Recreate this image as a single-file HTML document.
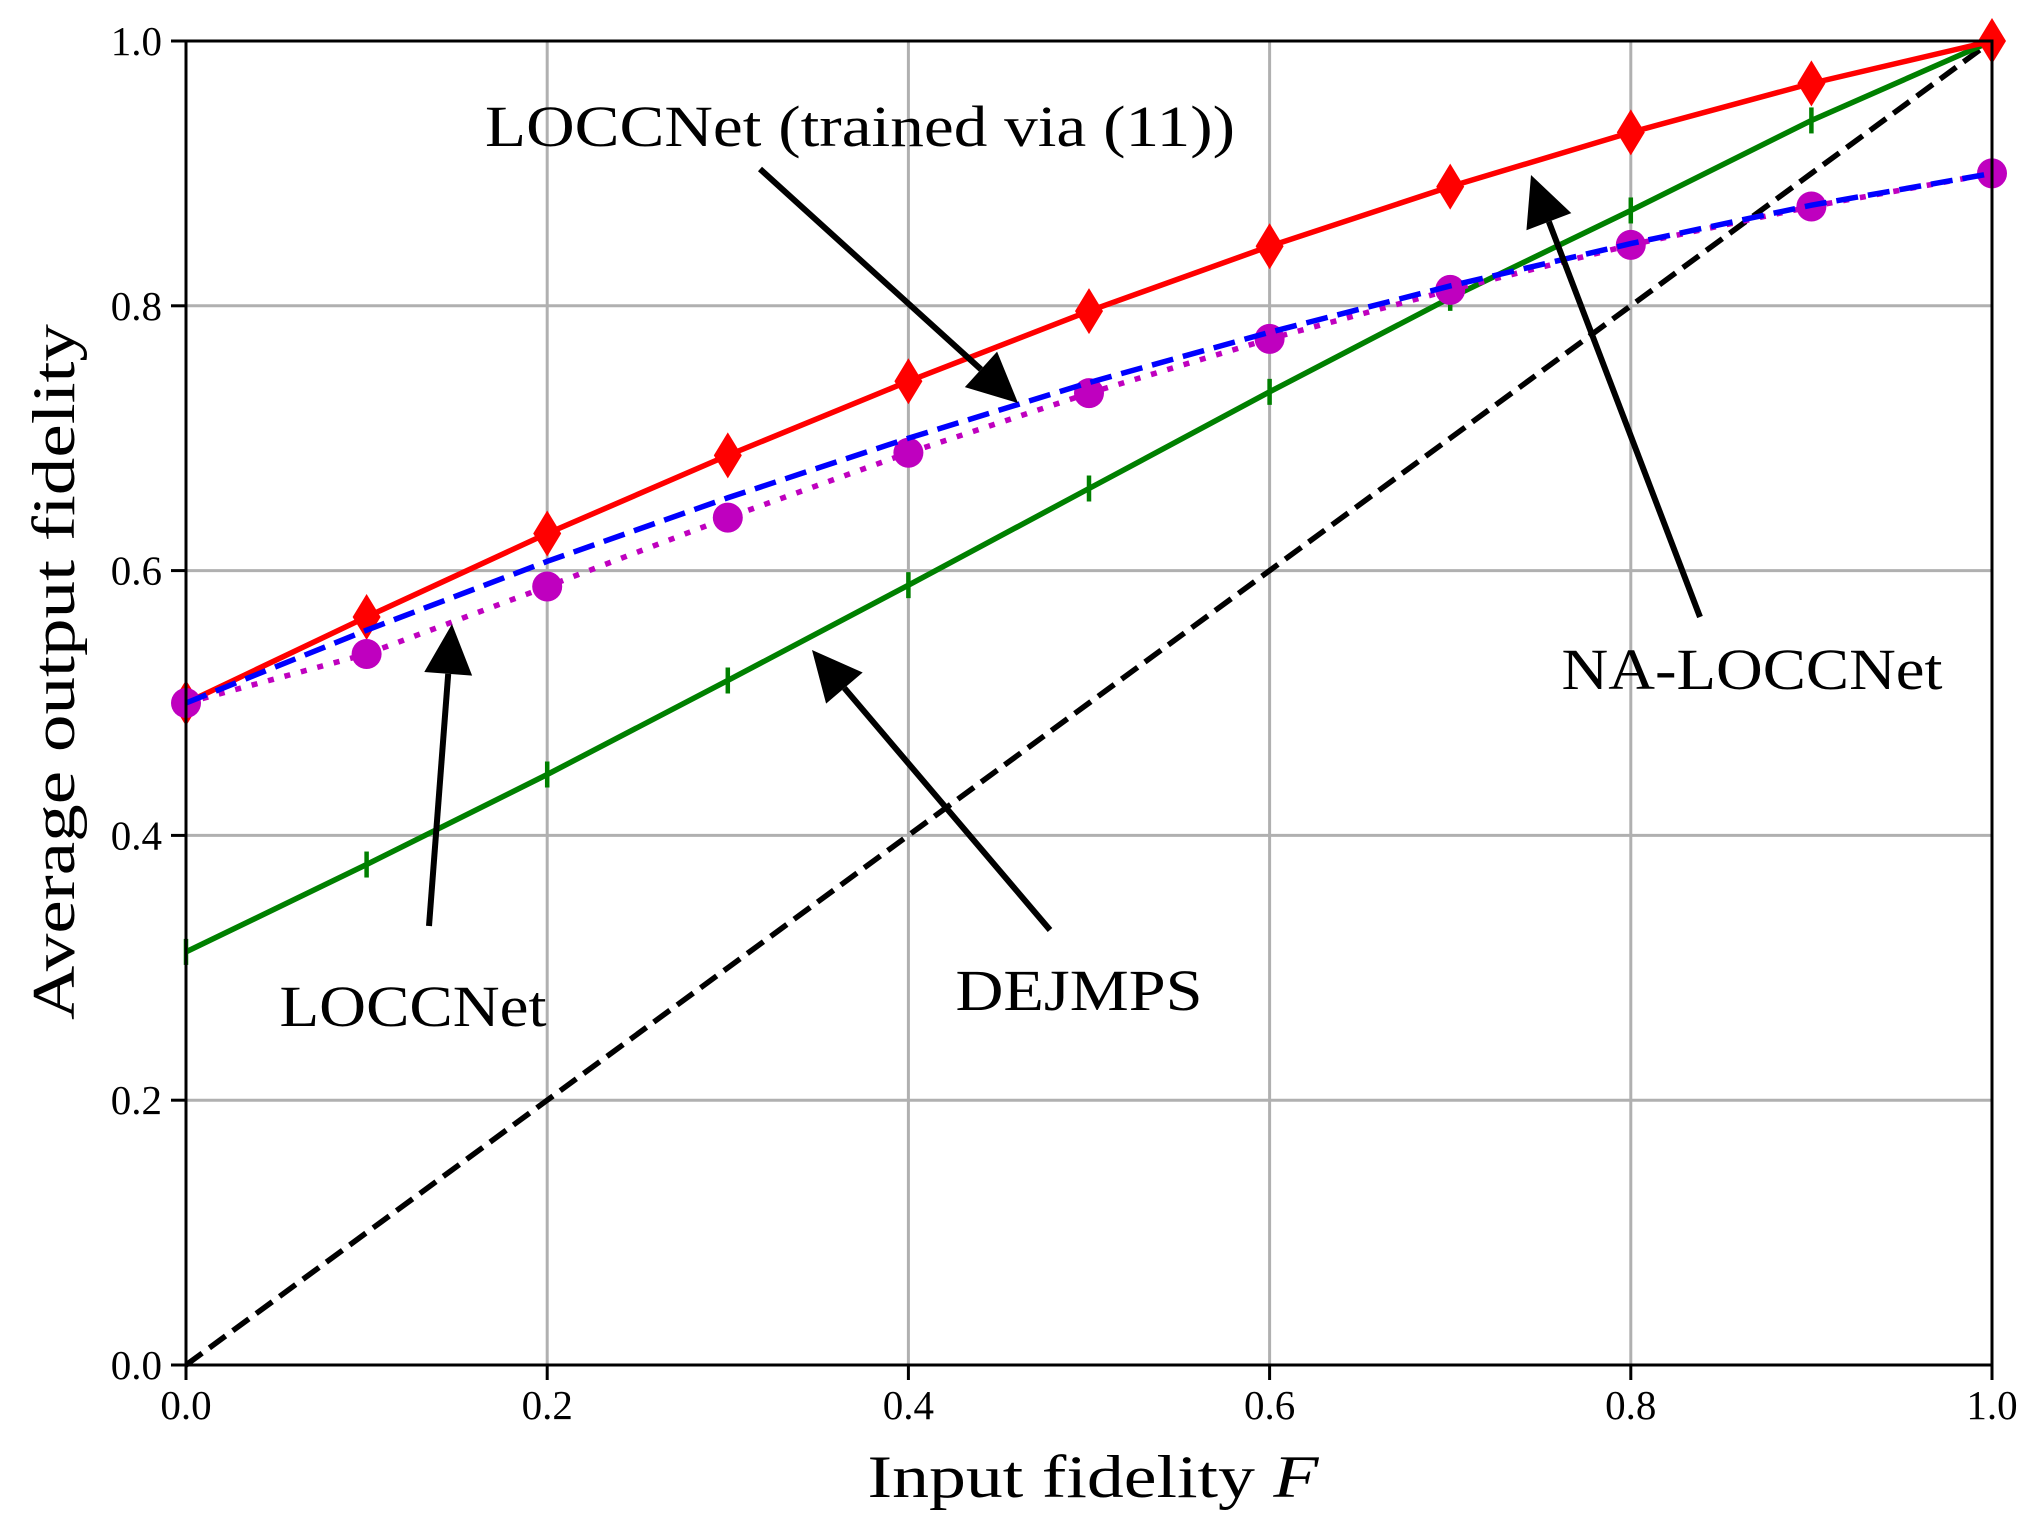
<!DOCTYPE html>
<html><head><meta charset="utf-8"><style>
body{margin:0;background:#fff}
svg text{font-family:"Liberation Serif",serif;fill:#000}
</style></head><body>
<svg id="chart" width="2037" height="1533" xmlns="http://www.w3.org/2000/svg">
<g id="grid"></g>
<g id="series"></g>
<g id="axes"></g>
<g id="annot"></g>
</svg>
<script>
const xs = [0,0.1,0.2,0.3,0.4,0.5,0.6,0.7,0.8,0.9,1.0];
const naLoccnet = [0.5,0.565,0.628,0.687,0.743,0.796,0.845,0.89,0.931,0.968,1.0];
const loccnet = [0.5,0.537,0.588,0.64,0.689,0.734,0.775,0.812,0.846,0.875,0.9];
const loccnetTrained = [0.5,0.555,0.607,0.655,0.7,0.742,0.78,0.815,0.847,0.876,0.9];
const dejmps = [0.312,0.378,0.446,0.517,0.589,0.662,0.735,0.806,0.872,0.94,1.0];
const baseline = [0,0.1,0.2,0.3,0.4,0.5,0.6,0.7,0.8,0.9,1.0];
const xTicks = ["0.0","0.2","0.4","0.6","0.8","1.0"];
const yTicks = ["0.0","0.2","0.4","0.6","0.8","1.0"];

const L=186,R=1992,T=41,B=1365;
const X=v=>L+(R-L)*v, Y=v=>B-(B-T)*v;
const NS="http://www.w3.org/2000/svg";
function mk(tag,attrs,parent){const e=document.createElementNS(NS,tag);for(const k in attrs)e.setAttribute(k,attrs[k]);parent.appendChild(e);return e;}
const grid=document.getElementById('grid'),ser=document.getElementById('series'),axes=document.getElementById('axes'),ann=document.getElementById('annot');

xTicks.forEach(t=>{const v=parseFloat(t);
 let g=mk('line',{x1:X(v),x2:X(v),y1:T,y2:B,stroke:'#b0b0b0','stroke-width':3},grid);
 
 let tk=mk('line',{x1:X(v),x2:X(v),y1:B,y2:B+15,stroke:'#000','stroke-width':3},axes);
 
 let tx=mk('text',{x:X(v),y:B+54,'text-anchor':'middle','font-size':41},axes);tx.textContent=t;
 
});
yTicks.forEach(t=>{const v=parseFloat(t);
 let g=mk('line',{x1:L,x2:R,y1:Y(v),y2:Y(v),stroke:'#b0b0b0','stroke-width':3},grid);
 
 let tk=mk('line',{x1:L-15,x2:L,y1:Y(v),y2:Y(v),stroke:'#000','stroke-width':3},axes);
 
 let tx=mk('text',{x:L-24,y:Y(v)+14,'text-anchor':'end','font-size':41},axes);tx.textContent=t;
 
});
let fr=mk('rect',{x:L,y:T,width:R-L,height:B-T,fill:'none',stroke:'#000','stroke-width':3},axes);

let xl=mk('text',{x:1093,y:1497,'text-anchor':'middle','font-size':60,textLength:451,lengthAdjust:'spacingAndGlyphs'},axes);
xl.innerHTML='Input fidelity <tspan font-style="italic">F</tspan>';

let yl=mk('text',{x:0,y:0,'text-anchor':'middle','font-size':60,textLength:696,lengthAdjust:'spacingAndGlyphs',transform:`translate(74,672) rotate(-90)`},axes);
yl.textContent='Average output fidelity';


function line(vals,color,dash,name){
 const p=mk('polyline',{points:xs.map((x,i)=>X(x)+','+Y(vals[i])).join(' '),fill:'none',stroke:color,'stroke-width':5.5,'stroke-dasharray':dash||'none'},ser);
 
}
line(baseline,'#000','20 9','baseline-line');
line(dejmps,'#008000',null,'dejmps-line');
xs.forEach((x,i)=>{const m=mk('line',{x1:X(x),x2:X(x),y1:Y(dejmps[i])-13,y2:Y(dejmps[i])+13,stroke:'#008000','stroke-width':4.5},ser);
 });
line(naLoccnet,'#ff0000',null,'na-loccnet-line');
xs.forEach((x,i)=>{const cx=X(x),cy=Y(naLoccnet[i]);
 const m=mk('polygon',{points:`${cx},${cy-23} ${cx+14},${cy} ${cx},${cy+23} ${cx-14},${cy}`,fill:'#ff0000'},ser);
 });
line(loccnet,'#bf00bf','6 11','loccnet-line');
xs.forEach((x,i)=>{const m=mk('circle',{cx:X(x),cy:Y(loccnet[i]),r:15,fill:'#bf00bf'},ser);
 });
line(loccnetTrained,'#0000ff','22 10','loccnet-trained-line');

function arrow(x1,y1,x2,y2,name){
 const g=mk('g',{},ann);
 const dx=x2-x1,dy=y2-y1,len=Math.hypot(dx,dy),ux=dx/len,uy=dy/len,hl=50,hw=24;
 const bx=x2-ux*hl,by=y2-uy*hl;
 mk('line',{x1,y1,x2:bx,y2:by,stroke:'#000','stroke-width':6},g);
 mk('polygon',{points:`${x2},${y2} ${bx-uy*hw},${by+ux*hw} ${bx+uy*hw},${by-ux*hw}`,fill:'#000'},g);
}
function label(x,y,t,w,name){const e=mk('text',{x,y,'text-anchor':'middle','font-size':58,textLength:w,lengthAdjust:'spacingAndGlyphs'},ann);e.textContent=t;
 }
arrow(760,169,1018,403,'arrow-loccnet-trained');
label(860,146,'LOCCNet (trained via (11))',750,'label-loccnet-trained');
arrow(1700,617,1531,175,'arrow-na-loccnet');
label(1752,689,'NA-LOCCNet',381,'label-na-loccnet');
arrow(429,926,452,624,'arrow-loccnet');
label(413,1026,'LOCCNet',267,'label-loccnet');
arrow(1050,930,812,650,'arrow-dejmps');
label(1079,1010,'DEJMPS',247,'label-dejmps');
</script>
</body></html>
